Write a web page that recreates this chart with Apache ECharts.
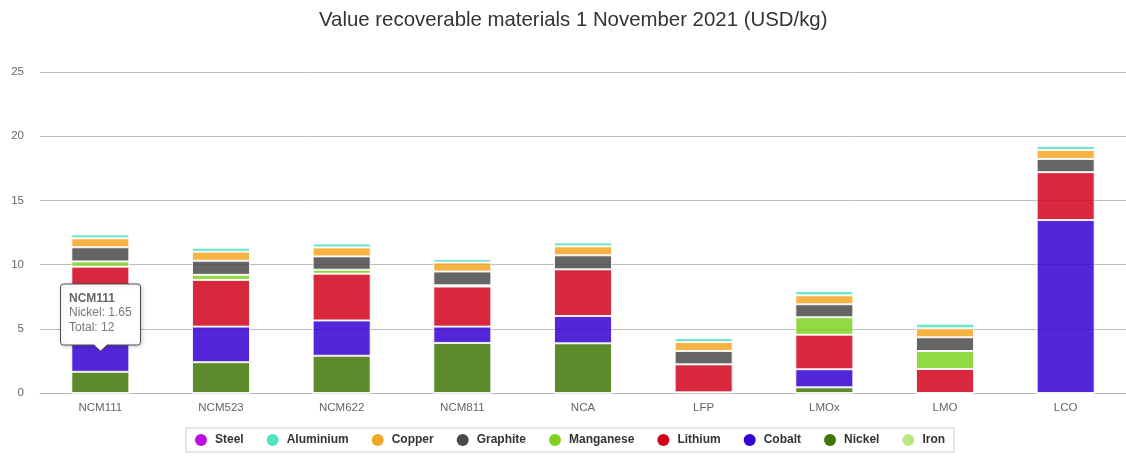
<!DOCTYPE html>
<html>
<head>
<meta charset="utf-8">
<script src="https://cdn.jsdelivr.net/npm/echarts@6/dist/echarts.min.js"></script>
<style>
html,body{margin:0;padding:0;background:#fff;}
#chart{width:1126px;height:457px;}
</style>
</head>
<body>
<div id="chart"></div>
<script>
var categories = ['NCM111','NCM523','NCM622','NCM811','NCA','LFP','LMOx','LMO','LCO'];
var steel     = [0, 0, 0, 0, 0, 0, 0, 0, 0];
var aluminium = [0.31, 0.32, 0.31, 0.28, 0.31, 0.31, 0.33, 0.36, 0.31];
var copper    = [0.70, 0.70, 0.70, 0.70, 0.70, 0.70, 0.70, 0.70, 0.70];
var graphite  = [1.10, 1.10, 1.04, 1.07, 1.09, 1.04, 1.01, 1.07, 1.03];
var manganese = [0.41, 0.39, 0.31, 0.10, 0, 0, 1.36, 1.40, 0];
var lithium   = [3.69, 3.64, 3.64, 3.12, 3.63, 2.18, 2.69, 1.87, 3.73];
var cobalt    = [4.50, 2.77, 2.75, 1.27, 2.13, 0, 1.41, 0, 13.47];
var nickel    = [1.65, 2.40, 2.90, 3.90, 3.87, 0, 0.44, 0, 0];
var iron      = [0, 0, 0, 0, 0, 0.05, 0, 0, 0];
var yTicks = [0, 5, 10, 15, 20, 25];

var seriesDefs = [
  {name:'Iron', data:iron, color:'#B8E986'},
  {name:'Nickel', data:nickel, color:'#417505'},
  {name:'Cobalt', data:cobalt, color:'#3500D2'},
  {name:'Lithium', data:lithium, color:'#D0021B'},
  {name:'Manganese', data:manganese, color:'#7ED321'},
  {name:'Graphite', data:graphite, color:'#4A4A4A'},
  {name:'Copper', data:copper, color:'#F5A623'},
  {name:'Aluminium', data:aluminium, color:'#50E3C2'},
  {name:'Steel', data:steel, color:'#BD10E0'}
];
var legendOrder = ['Steel','Aluminium','Copper','Graphite','Manganese','Lithium','Cobalt','Nickel','Iron'];
var FONT = '"Liberation Sans", Arial, Helvetica, sans-serif';

var chart = echarts.init(document.getElementById('chart'), null, {renderer:'canvas'});
var option = {
  animation: false,
  backgroundColor: '#ffffff',
  title: {
    text: 'Value recoverable materials 1 November 2021 (USD/kg)',
    left: 314, top: 5,
    textStyle: {fontFamily: FONT, fontSize: 20.4, fontWeight: 'normal', color: '#333333'}
  },
  legend: {
    data: legendOrder,
    left: 186, top: 428,
    padding: [6, 9, 6, 9],
    borderColor: '#cccccc', borderWidth: 1,
    itemWidth: 18, itemHeight: 12, itemGap: 23,
    icon: 'circle',
    itemStyle: {opacity: 1, borderWidth: 0},
    textStyle: {fontFamily: FONT, fontSize: 12, fontWeight: 'bold', color: '#333333'}
  },
  grid: {left: 40, right: 0, top: 72, bottom: 64},
  xAxis: {
    type: 'category',
    data: categories,
    axisTick: {show: false},
    axisLine: {lineStyle: {color: '#b4b4b4', width: 1}},
    axisLabel: {margin: 9, fontFamily: FONT, fontSize: 11.5, color: '#666666'}
  },
  yAxis: {
    type: 'value',
    min: yTicks[0], max: yTicks[yTicks.length-1], interval: 5,
    axisLine: {show: false},
    axisTick: {show: false},
    splitLine: {lineStyle: {color: '#bcbcbc', width: 1}},
    axisLabel: {margin: 16, fontFamily: FONT, fontSize: 11.5, color: '#666666'}
  },
  series: seriesDefs.map(function(s){
    return {
      name: s.name, type: 'bar', stack: 'total', data: s.data,
      barWidth: 58,
      itemStyle: {color: s.color, opacity: 0.85, borderColor: '#ffffff', borderWidth: 1}
    };
  })
};
chart.setOption(option);

// Static hover tooltip as in the reference (NCM111 / Nickel)
var idx = 0;
var total = 0;
seriesDefs.forEach(function(s){ total += s.data[idx]; });
var anchor = chart.convertToPixel({xAxisIndex:0, yAxisIndex:0}, [idx, nickel[idx]]);
var cx = Math.round(anchor[0]) + 0.5;
var tipY = Math.round(anchor[1]) - 21;
var w = 80, h = 61;
var bx = cx - w/2, by = tipY - 6 - h;
chart.setOption({
  graphic: [
    {type:'rect', z:200, zlevel:1, shape:{x:bx, y:by, width:w, height:h, r:3},
     style:{fill:'#ffffff', stroke:'#505050', lineWidth:1,
            shadowBlur:4, shadowOffsetX:1, shadowOffsetY:1, shadowColor:'rgba(0,0,0,0.2)'}},
    {type:'polygon', z:201, zlevel:1, shape:{points:[[cx-7, by+h-1],[cx, tipY],[cx+7, by+h-1]]},
     style:{fill:'#ffffff', stroke:'none'}},
    {type:'polyline', z:202, zlevel:1, shape:{points:[[cx-7, by+h],[cx, tipY],[cx+7, by+h]]},
     style:{fill:'none', stroke:'#505050', lineWidth:1}},
    {type:'text', z:203, zlevel:1, x: bx + 8.5, y: by + 9,
     style:{text: categories[idx], fontFamily: FONT, fontSize: 12, fontWeight:'bold', fill:'#666666'}},
    {type:'text', z:203, zlevel:1, x: bx + 8.5, y: by + 23,
     style:{text: 'Nickel: ' + nickel[idx], fontFamily: FONT, fontSize: 12, fill:'#777777'}},
    {type:'text', z:203, zlevel:1, x: bx + 8.5, y: by + 38,
     style:{text: 'Total: ' + Math.round(total), fontFamily: FONT, fontSize: 12, fill:'#777777'}}
  ]
});
</script>
</body>
</html>
